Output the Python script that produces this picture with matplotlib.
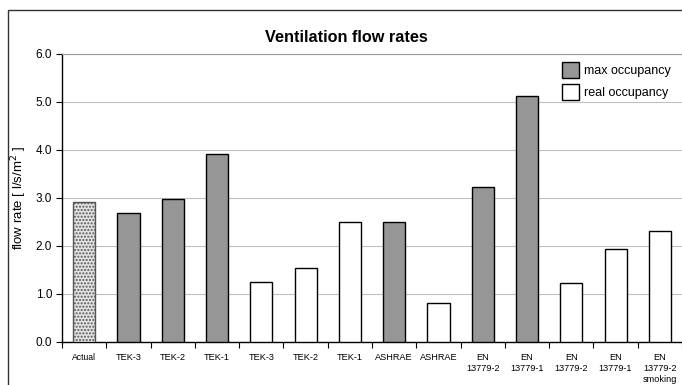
import numpy as np
import matplotlib
matplotlib.use("Agg")
import matplotlib.pyplot as plt
from matplotlib.patches import Rectangle, Patch

plt.rcParams['font.family'] = ['Liberation Sans', 'DejaVu Sans']
plt.rcParams['hatch.color'] = '#9a9a9a'

labels = ["Actual", "TEK-3", "TEK-2", "TEK-1", "TEK-3", "TEK-2", "TEK-1",
          "ASHRAE", "ASHRAE", "EN\n13779-2", "EN\n13779-1", "EN\n13779-2",
          "EN\n13779-1", "EN\n13779-2\nsmoking"]
values = [2.92, 2.69, 2.98, 3.91, 1.26, 1.55, 2.49,
          2.49, 0.81, 3.22, 5.12, 1.22, 1.93, 2.32]
# kind: 0 = actual, 1 = max occupancy, 2 = real occupancy
kind = [0, 1, 1, 1, 2, 2, 2, 1, 2, 1, 1, 2, 2, 2]

W, H = 682, 385
fig = plt.figure(figsize=(W / 100, H / 100), dpi=100)
ax = fig.add_axes([62 / W, 1 - 342 / H, 620 / W, 288 / H])

x = np.arange(len(labels))
for xi, v, k in zip(x, values, kind):
    if k == 0:
        ax.bar(xi, v, width=0.5, facecolor='#e4e4e4', edgecolor='#555555',
               hatch='.....', linewidth=1.0, zorder=3)
    elif k == 1:
        ax.bar(xi, v, width=0.5, facecolor='#969696', edgecolor='black',
               linewidth=1.0, zorder=3)
    else:
        ax.bar(xi, v, width=0.5, facecolor='white', edgecolor='black',
               linewidth=1.0, zorder=3)

ax.set_xlim(-0.5, len(labels) - 0.5)
ax.set_ylim(0, 6)
ticks = np.arange(0, 6.1, 1.0)
ax.set_yticks(ticks)
ax.set_yticklabels([f"{t:.1f}" for t in ticks], fontsize=8.5)
ax.yaxis.grid(True, color='#c0c0c0', linewidth=0.8, zorder=0)
ax.set_axisbelow(True)

ax.set_xticks(x)
ax.set_xticklabels(labels, fontsize=6.6, va='top', linespacing=1.25)
ax.tick_params(axis='x', length=0, pad=8)
ax.set_xticks(np.arange(-0.5, len(labels), 1.0), minor=True)
ax.tick_params(axis='x', which='minor', length=4, direction='out', width=0.8)
ax.tick_params(axis='y', length=4, direction='out', width=0.8, pad=3)
ax.get_xticklabels()[0].set_fontsize(6.2)

ax.spines['right'].set_visible(False)
ax.spines['top'].set_color('#999999')
ax.spines['top'].set_linewidth(0.8)
ax.spines['left'].set_linewidth(1.0)
ax.spines['bottom'].set_linewidth(1.0)

ax.set_ylabel(r"flow rate [ l/s/m$^2$ ]", fontsize=9.5, labelpad=5)

handles = [Patch(facecolor='#969696', edgecolor='black', label='max occupancy'),
           Patch(facecolor='white', edgecolor='black', label='real occupancy')]
ax.legend(handles=handles, loc='upper right', frameon=False, fontsize=9,
          handlelength=1.4, handleheight=1.5, handletextpad=0.4,
          labelspacing=0.55, bbox_to_anchor=(1.0, 1.01))

fig.text(346 / W, 1 - 37 / H, "Ventilation flow rates", ha='center',
         va='center', fontsize=11.7, fontweight='bold')

fig.patches.append(Rectangle((8 / W, -0.1), 1.2, 1 - 10 / H + 0.1,
                             transform=fig.transFigure, fill=False,
                             edgecolor='#333333', linewidth=1.0))

fig.savefig("out.png", dpi=100)
